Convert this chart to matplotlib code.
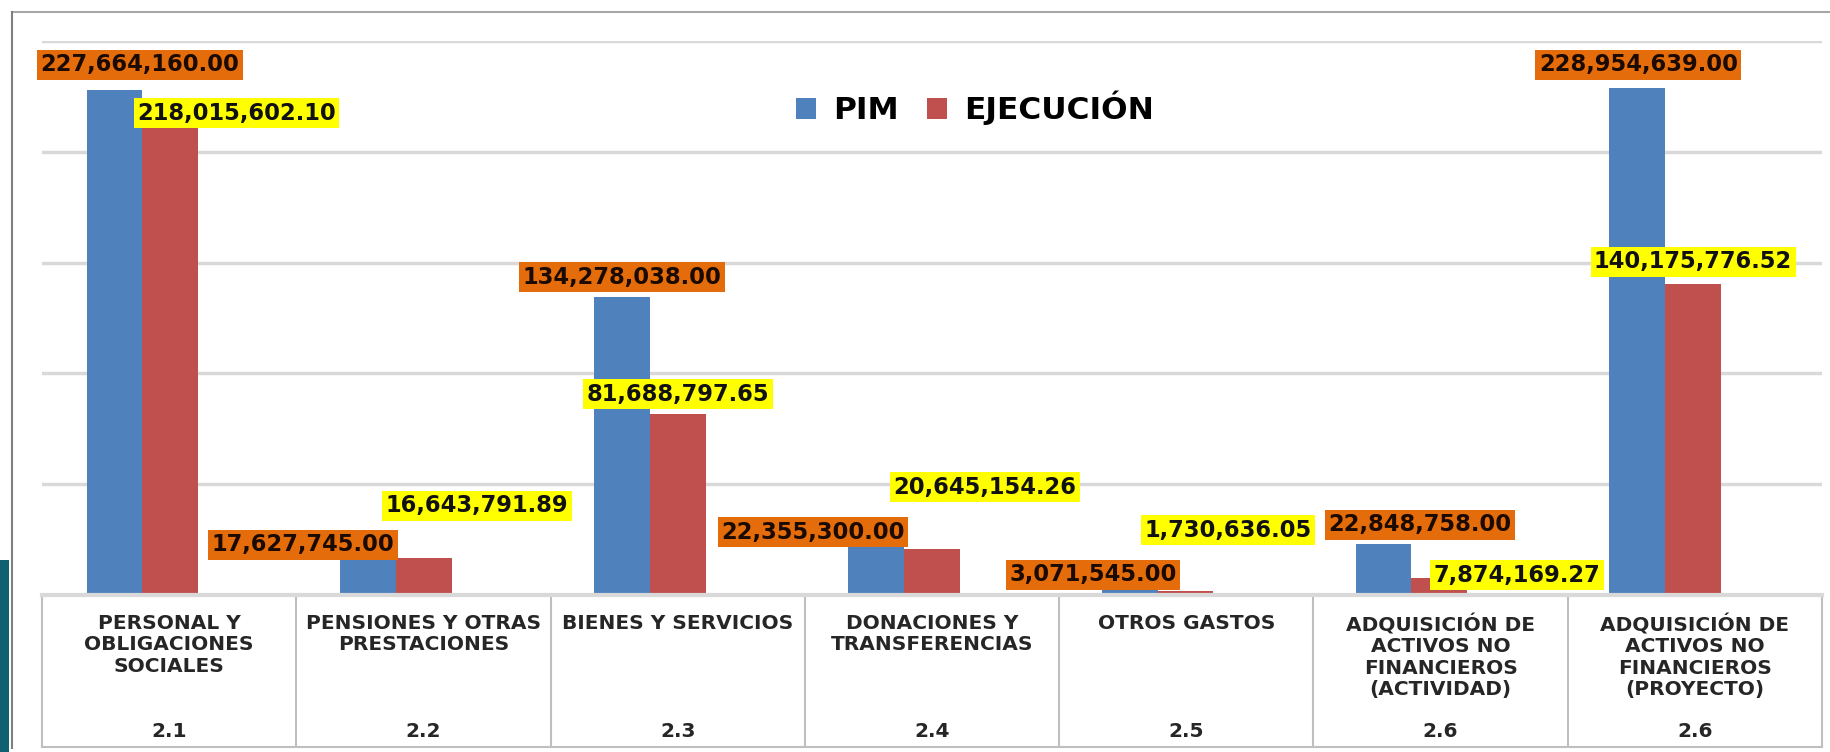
import matplotlib
matplotlib.use("Agg")
import matplotlib.pyplot as plt
from matplotlib.patches import Rectangle

# ---------------- data ----------------
categories = [
    "PERSONAL Y\nOBLIGACIONES\nSOCIALES",
    "PENSIONES Y OTRAS\nPRESTACIONES",
    "BIENES Y SERVICIOS",
    "DONACIONES Y\nTRANSFERENCIAS",
    "OTROS GASTOS",
    "ADQUISICIÓN DE\nACTIVOS NO\nFINANCIEROS\n(ACTIVIDAD)",
    "ADQUISICIÓN DE\nACTIVOS NO\nFINANCIEROS\n(PROYECTO)",
]
codes = ["2.1", "2.2", "2.3", "2.4", "2.5", "2.6", "2.6"]
pim = [227664160.00, 17627745.00, 134278038.00, 22355300.00,
       3071545.00, 22848758.00, 228954639.00]
ejecucion = [218015602.10, 16643791.89, 81688797.65, 20645154.26,
             1730636.05, 7874169.27, 140175776.52]
series_names = ["PIM", "EJECUCIÓN"]

# label placement (x offset from category centre, y in value units)
pim_lab_dx = [-0.01, -0.368, -0.11, -0.358, -0.253, 0.034, -0.106]
pim_lab_y = [239.2e6, 22.6e6, 143.5e6, 28.4e6, 9.2e6, 31.6e6, 239.2e6]
eje_lab_dx = [0.37, 0.318, 0.11, 0.32, 0.276, 0.416, 0.11]
eje_lab_y = [217.5e6, 40.2e6, 90.7e6, 48.7e6, 29.3e6, 9.0e6, 150.3e6]

# ---------------- style ----------------
BLUE = "#4F81BD"
RED = "#C0504D"
ORANGE = "#E46C0A"
YELLOW = "#FFFF00"
GRID = "#D9D9D9"
FRAME = "#A6A6A6"

W, H = 1830, 752
fig = plt.figure(figsize=(W / 100, H / 100), dpi=100)
fig.patch.set_facecolor("white")

def fx(px):
    return px / W

def fy(py):
    return 1 - py / H

# main bar axes
left, right, top, base = 42, 1822, 41, 595
ax = fig.add_axes([fx(left), fy(base), fx(right - left), (base - top) / H])
n = len(categories)
xs = list(range(n))
bw = 0.22
b1 = ax.bar([x - bw / 2 for x in xs], pim, width=bw, color=BLUE, label=series_names[0], zorder=3)
b2 = ax.bar([x + bw / 2 for x in xs], ejecucion, width=bw, color=RED, label=series_names[1], zorder=3)
ax.set_xlim(-0.396, 6.618)
ax.set_ylim(0, 250e6)
ax.set_yticks([0, 50e6, 100e6, 150e6, 200e6, 250e6])
ax.yaxis.grid(True, color=GRID, linewidth=2.5, zorder=0)
ax.set_axisbelow(True)
ax.tick_params(left=False, bottom=False, labelleft=False, labelbottom=False)
for s in ax.spines.values():
    s.set_visible(False)

for i in range(n):
    ax.text(i + pim_lab_dx[i], pim_lab_y[i], f"{pim[i]:,.2f}", ha="center", va="center",
            fontsize=16.3, fontweight="bold", color="#1a0a00", zorder=5,
            bbox=dict(facecolor=ORANGE, edgecolor="none", boxstyle="square,pad=0.15"))
    ax.text(i + eje_lab_dx[i], eje_lab_y[i], f"{ejecucion[i]:,.2f}", ha="center", va="center",
            fontsize=16.3, fontweight="bold", color="#111111", zorder=5,
            bbox=dict(facecolor=YELLOW, edgecolor="none", boxstyle="square,pad=0.15"))

leg = fig.legend(handles=[b1, b2], labels=series_names, loc="center",
                 bbox_to_anchor=(fx(975), fy(108)), ncol=2, frameon=False,
                 prop=dict(size=22.5, weight="bold"), handlelength=0.65, handleheight=0.65,
                 handletextpad=0.55, columnspacing=0.9)

# category table below the axis
tbot = 747
tax = fig.add_axes([fx(left), fy(tbot), fx(right - left), (tbot - base) / H])
tax.set_xlim(-0.5, n - 0.5)
tax.set_ylim(0, 1)
tax.tick_params(left=False, bottom=False, labelleft=False, labelbottom=False)
for s in tax.spines.values():
    s.set_color("#BFBFBF")
    s.set_linewidth(1.5)
tax.spines["top"].set_color(GRID)
tax.spines["top"].set_linewidth(3)
for i in range(1, n):
    tax.axvline(i - 0.5, color="#BFBFBF", linewidth=1.5)
for i in range(n):
    tax.text(i, 0.875, categories[i], ha="center", va="top", fontsize=14.5,
             fontweight="bold", color="#262626", linespacing=1.15)
    tax.text(i, 0.10, codes[i], ha="center", va="center", fontsize=14.5,
             fontweight="bold", color="#262626")

# outer frame and decoration
fig.add_artist(plt.Line2D([fx(12), fx(W)], [fy(12), fy(12)], color=FRAME, linewidth=1.5))
fig.add_artist(plt.Line2D([fx(12), fx(12)], [fy(12), fy(748)], color="#7f7f7f", linewidth=1.5))
fig.add_artist(Rectangle((0, fy(752)), fx(9), (752 - 560) / H, transform=fig.transFigure,
                         facecolor="#0F6070", edgecolor="none"))

fig.savefig("out.png", dpi=100)
